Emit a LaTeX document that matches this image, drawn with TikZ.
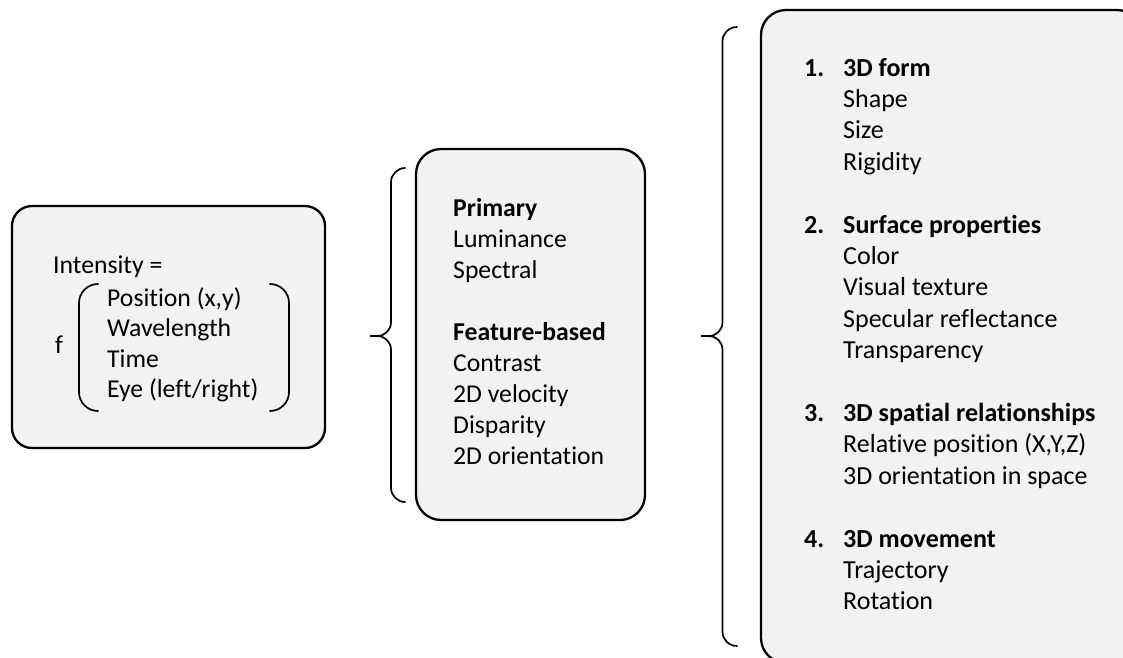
\documentclass[tikz,border=0pt]{standalone}
\usepackage{fontspec}
\setmainfont{Carlito}[Ligatures=NoCommon]
\definecolor{panelgray}{HTML}{F2F2F2}
\begin{document}
\begin{tikzpicture}[x=1pt,y=-1pt,
  panel/.style={draw=black, line width=2.3pt, fill=panelgray, inner sep=0pt},
  brace/.style={draw=black, line width=1.7pt, line cap=round},
  txt/.style={anchor=base west, inner sep=0pt, font=\fontsize{25.7}{31}\selectfont},
  btxt/.style={txt, font=\fontsize{25.7}{31}\selectfont\bfseries},
  rtxt/.style={anchor=base west, inner sep=0pt, font=\fontsize{26}{31}\selectfont},
  head/.style={rtxt, font=\fontsize{26}{31}\selectfont\bfseries},
]
\path[use as bounding box, clip] (0,0) rectangle (1123,657);

% --- the three panels
\node[panel, rounded corners=20pt, minimum width=313pt, minimum height=242pt] (src) at (168.5,327) {};
\node[panel, rounded corners=25pt, minimum width=229pt, minimum height=371pt] (feat) at (530.5,334.5) {};
\node[panel, rounded corners=25pt, minimum width=381pt, minimum height=653pt] (scene) at (951.5,336.5) {};

% --- intensity function
\node[txt] (int) at (53,273) {Intensity =};
\node[txt] (f) at (55,353) {f};
\node[txt] (a1) at (107,306) {Position (x,y)};
\node[txt] (a2) at (107,336.5) {Wavelength};
\node[txt] (a3) at (107,367) {Time};
\node[txt] (a4) at (107,397.5) {Eye (left/right)};
\draw[brace] (98,284) .. controls (87.5,284) and (79,292.5) .. (79,303) -- (79,392)
  .. controls (79,402.5) and (87.5,411) .. (98,411);
\draw[brace] (270,284) .. controls (280.5,284) and (289,292.5) .. (289,303) -- (289,392)
  .. controls (289,402.5) and (280.5,411) .. (270,411);

% --- image features
\node[btxt] (m1) at (453,216) {Primary};
\node[txt] (m2) at (453,247.1) {Luminance};
\node[txt] (m3) at (453,278.2) {Spectral};
\node[btxt] (m4) at (453,340.4) {Feature-based};
\node[txt] (m5) at (453,371.5) {Contrast};
\node[txt] (m6) at (453,402.6) {2D velocity};
\node[txt] (m7) at (453,433.7) {Disparity};
\node[txt] (m8) at (453,464.8) {2D orientation};

% --- scene properties
\foreach \k/\n/\t in {0/1/3D form, 5/2/Surface properties, 11/3/3D spatial relationships, 15/4/3D movement}
  \node[head] (h\n) at (804,76+31.4*\k) {\makebox[39pt][l]{\n.}\t};
\foreach \k/\t [count=\i] in {1/Shape, 2/Size, 3/Rigidity, 6/Color, 7/Visual texture,
    8/Specular reflectance, 9/Transparency, 12/{Relative position (X,Y,Z)},
    13/3D orientation in space, 16/Trajectory, 17/Rotation}
  \node[rtxt] (r\i) at (843,76+31.4*\k) {\t};

% --- braces
\coordinate (t1) at (370,336);
\coordinate (t2) at (701,336);
\draw[brace] (405,168) .. controls (397.5,168) and (391,174.5) .. (391,182) -- (391,322)
  .. controls (391,330) and (385,336) .. (377,336) -- (t1) -- (377,336)
  .. controls (385,336) and (391,342) .. (391,350) -- (391,488)
  .. controls (391,495.5) and (397.5,502) .. (405,502);
\draw[brace] (737,27) .. controls (729,27) and (722.5,33.5) .. (722.5,41) -- (722.5,322)
  .. controls (722.5,330) and (716.5,336) .. (708.5,336) -- (t2) -- (708.5,336)
  .. controls (716.5,336) and (722.5,342) .. (722.5,350) -- (722.5,632)
  .. controls (722.5,639.5) and (729,646) .. (737,646);
\end{tikzpicture}
\end{document}
